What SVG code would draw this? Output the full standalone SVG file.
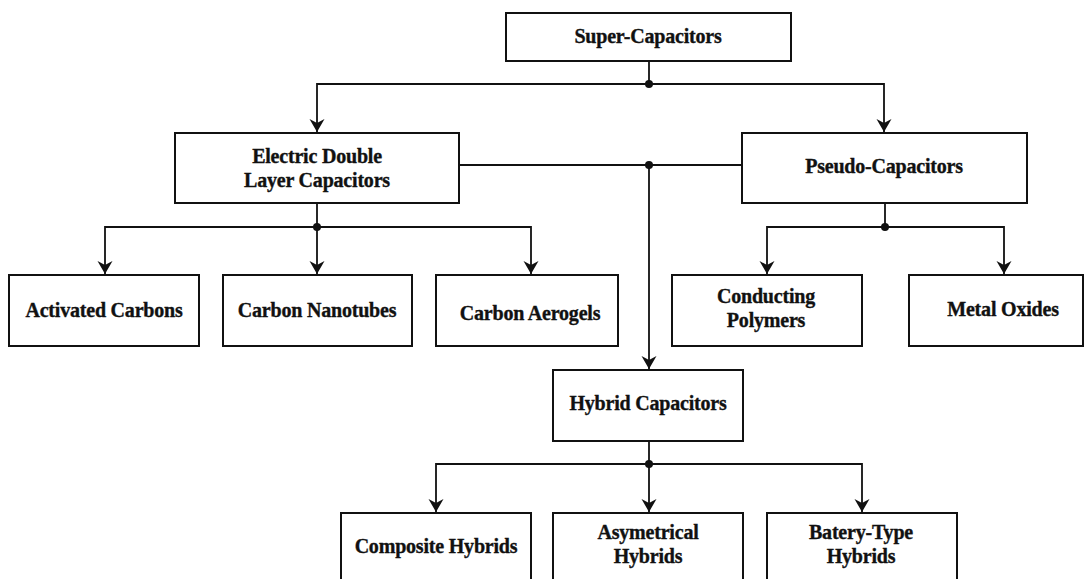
<svg xmlns="http://www.w3.org/2000/svg" width="1085" height="579" viewBox="0 0 1085 579">
<defs>
<marker id="arr" markerUnits="userSpaceOnUse" markerWidth="16" markerHeight="16" viewBox="-13 -8 14 16" refX="0" refY="0" orient="auto">
<path d="M0,0 L-13,-7.5 L-9,0 L-13,7.5 Z" fill="#111"/>
</marker>
<style>
.box{fill:#fff;stroke:#111;stroke-width:2}
.t{font-family:"Liberation Serif","Times New Roman",serif;font-weight:bold;font-size:20px;letter-spacing:-0.2px;fill:#111;stroke:#111;stroke-width:0.35;text-anchor:middle}
.c{fill:none;stroke:#111;stroke-width:1.8}
.a{marker-end:url(#arr)}
.d{fill:#111}
</style>
</defs>
<rect width="1085" height="579" fill="#fff"/>
<g id="connectors">
<path class="c" d="M649,61 V84"/>
<path class="c a" d="M649,84 H317 V132"/>
<path class="c a" d="M649,84 H884 V132"/>
<path class="c" d="M459,165 H742"/>
<path class="c a" d="M649,165 V369"/>
<path class="c" d="M317,203 V227"/>
<path class="c a" d="M317,227 H105 V274"/>
<path class="c a" d="M317,227 V274"/>
<path class="c a" d="M317,227 H531 V274"/>
<path class="c" d="M885,203 V227"/>
<path class="c a" d="M885,227 H767 V274"/>
<path class="c a" d="M885,227 H1004 V274"/>
<path class="c" d="M649,441 V464"/>
<path class="c a" d="M649,464 H436 V512"/>
<path class="c a" d="M649,464 V512"/>
<path class="c a" d="M649,464 H862 V512"/>
<circle class="d" cx="649" cy="84" r="4"/>
<circle class="d" cx="649" cy="165" r="4"/>
<circle class="d" cx="317" cy="227" r="4"/>
<circle class="d" cx="885" cy="227" r="4"/>
<circle class="d" cx="649" cy="464" r="4"/>
</g>
<g id="super"><rect class="box" x="506" y="13" width="285" height="48"/><text class="t" x="648" y="43">Super-Capacitors</text></g>
<g id="edlc"><rect class="box" x="175" y="133" width="284" height="70"/><text class="t" x="317" y="163">Electric Double</text><text class="t" x="317" y="187">Layer Capacitors</text></g>
<g id="pseudo"><rect class="box" x="742" y="133" width="285" height="70"/><text class="t" x="884" y="173">Pseudo-Capacitors</text></g>
<g id="activated"><rect class="box" x="9" y="275" width="190" height="71"/><text class="t" x="104" y="317">Activated Carbons</text></g>
<g id="nanotubes"><rect class="box" x="223" y="275" width="189" height="71"/><text class="t" x="317" y="317">Carbon Nanotubes</text></g>
<g id="aerogels"><rect class="box" x="436" y="275" width="182" height="71"/><text class="t" x="530" y="320">Carbon Aerogels</text></g>
<g id="polymers"><rect class="box" x="672" y="275" width="190" height="71"/><text class="t" x="766" y="303">Conducting</text><text class="t" x="766" y="327">Polymers</text></g>
<g id="oxides"><rect class="box" x="909" y="275" width="174" height="71"/><text class="t" x="1003" y="316">Metal Oxides</text></g>
<g id="hybrid"><rect class="box" x="553" y="370" width="190" height="71"/><text class="t" x="648" y="410">Hybrid Capacitors</text></g>
<g id="composite"><rect class="box" x="341" y="513" width="190" height="80"/><text class="t" x="436" y="553">Composite Hybrids</text></g>
<g id="asymetrical"><rect class="box" x="553" y="513" width="190" height="80"/><text class="t" x="648" y="539">Asymetrical</text><text class="t" x="648" y="563">Hybrids</text></g>
<g id="batery"><rect class="box" x="767" y="513" width="190" height="80"/><text class="t" x="861" y="539">Batery-Type</text><text class="t" x="861" y="563">Hybrids</text></g>
</svg>
